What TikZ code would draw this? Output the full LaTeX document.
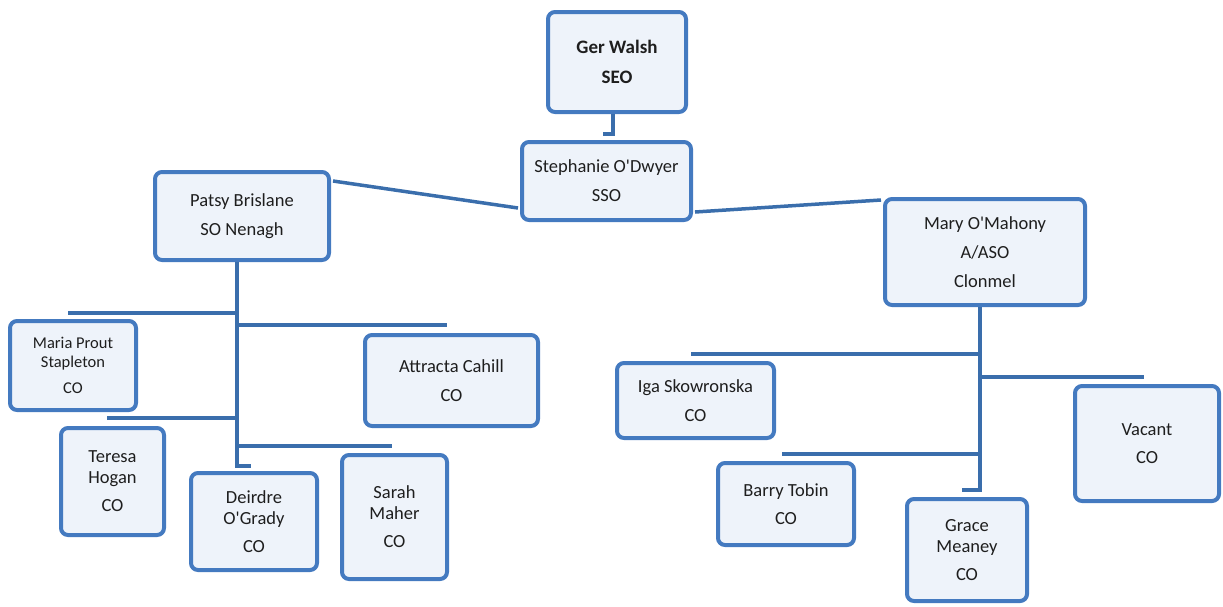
\documentclass[tikz,border=0pt]{standalone}
\usepackage{fontspec}
\setmainfont{Carlito}[Ligatures=TeXOff]
\usetikzlibrary{calc}
\definecolor{boxblue}{RGB}{68,122,192}
\definecolor{lineblue}{RGB}{58,110,172}
\definecolor{boxfill}{RGB}{238,243,250}
\definecolor{txt}{RGB}{30,30,30}
\begin{document}
\begin{tikzpicture}[x=1pt,y=-1pt,
  box/.style={draw=boxblue, line width=4pt, fill=boxfill, rounded corners=7pt,
    align=center, inner sep=0pt, text=txt, font=\fontsize{18.5}{21}\selectfont},
  smallbox/.style={box, font=\fontsize{16.5}{19}\selectfont},
  conn/.style={draw=lineblue, line width=3.5pt}]
\useasboundingbox (0,0) rectangle (1223,606);

% nodes
\node[box, minimum width=138, minimum height=100, font=\fontsize{19}{21}\selectfont\bfseries] (ger) at (617,62) {Ger Walsh\\[9pt]SEO};
\node[box, minimum width=169, minimum height=78] (steph) at (606.5,181) {Stephanie O'Dwyer\\[8pt]SSO};
\node[box, minimum width=174, minimum height=88] (patsy) at (242,216) {Patsy Brislane\\[8pt]SO Nenagh};
\node[box, minimum width=200, minimum height=106] (mary) at (985,252) {Mary O'Mahony\\[8pt]A/ASO\\[8pt]Clonmel};

\node[smallbox, minimum width=126, minimum height=89] (maria) at (73,365.5) {Maria Prout\\Stapleton\\[7pt]CO};
\node[box, minimum width=173, minimum height=91] (attracta) at (451.5,380.5) {Attracta Cahill\\[8pt]CO};
\node[box, minimum width=103, minimum height=107] (teresa) at (112.5,481.5) {Teresa\\Hogan\\[7pt]CO};
\node[box, minimum width=126, minimum height=97] (deirdre) at (254,521.5) {Deirdre\\O'Grady\\[7pt]CO};
\node[box, minimum width=105, minimum height=124] (sarah) at (394.5,517) {Sarah\\Maher\\[7pt]CO};

\node[box, minimum width=157, minimum height=75] (iga) at (695.5,400.5) {Iga Skowronska\\[8pt]CO};
\node[box, minimum width=144, minimum height=115] (vacant) at (1147,443.5) {Vacant\\[7pt]CO};
\node[box, minimum width=136, minimum height=82] (barry) at (786,504) {Barry Tobin\\[7pt]CO};
\node[box, minimum width=120, minimum height=102] (grace) at (967,550) {Grace\\Meaney\\[7pt]CO};

% connectors: top
\draw[conn] ($(ger.south)+(-4,0)$) -- ++(0,20) -- ++(-10,0);
\draw[conn] ($(patsy.east)+(2,-35)$) -- ($(steph.west)+(-2,27)$);
\draw[conn] ($(steph.east)+(2,31)$) -- ($(mary.west)+(-2,-52)$);

% Patsy's team
\coordinate (pj) at ($(patsy.south)+(-5,0)$);
\draw[conn] (pj) -- (pj |- 0,466) -- ([xshift=-3pt]deirdre.north |- 0,466);
\draw[conn] (pj |- 0,313) -- ([xshift=-5pt]maria.north |- 0,313);
\draw[conn] (pj |- 0,325) -- ([xshift=-4.5pt]attracta.north |- 0,325);
\draw[conn] (pj |- 0,418) -- ([xshift=-5.5pt]teresa.north |- 0,418);
\draw[conn] (pj |- 0,446) -- ([xshift=-2.5pt]sarah.north |- 0,446);

% Mary's team
\coordinate (mj) at ($(mary.south)+(-5,0)$);
\draw[conn] (mj) -- (mj |- 0,490) -- ([xshift=-5pt]grace.north |- 0,490);
\draw[conn] (mj |- 0,354) -- ([xshift=-4.5pt]iga.north |- 0,354);
\draw[conn] (mj |- 0,377) -- ([xshift=-3pt]vacant.north |- 0,377);
\draw[conn] (mj |- 0,454) -- ([xshift=-4pt]barry.north |- 0,454);
\end{tikzpicture}
\end{document}
